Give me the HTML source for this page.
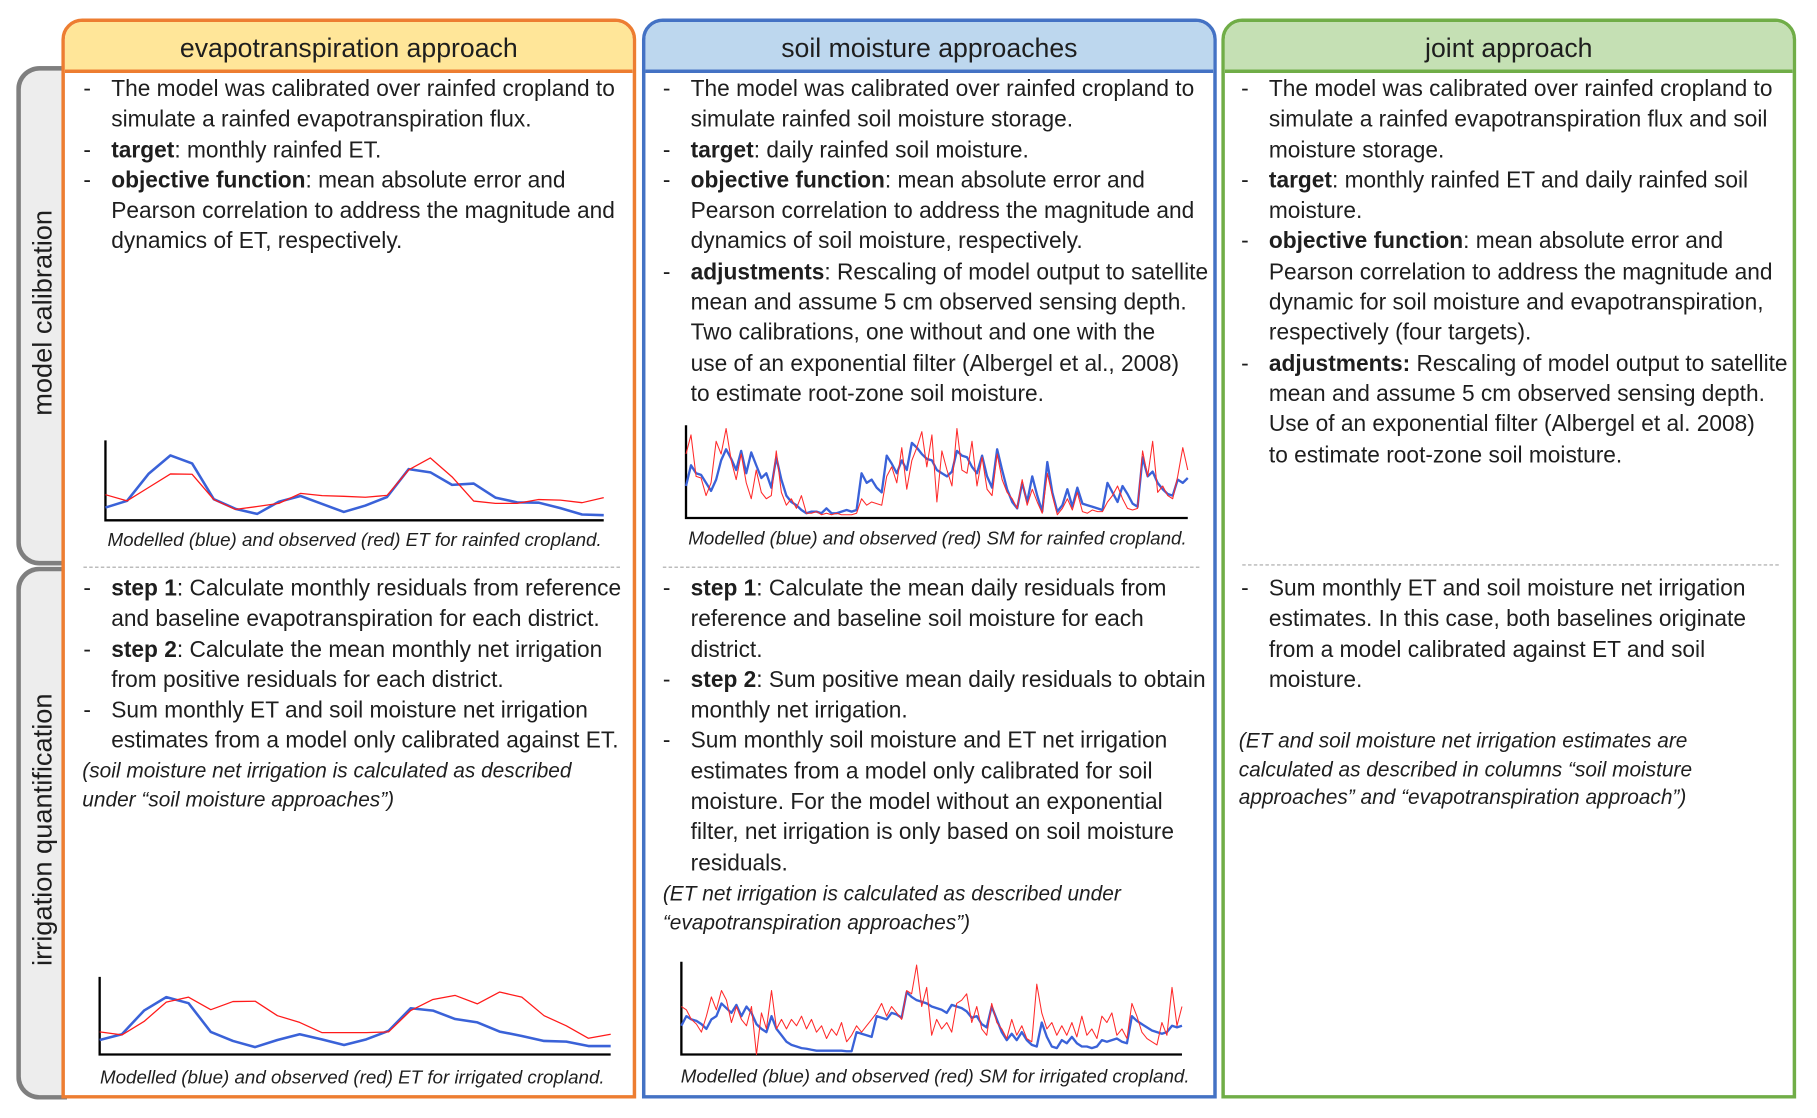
<!DOCTYPE html>
<html><head><meta charset="utf-8">
<style>
html,body{margin:0;padding:0;background:#fff;}
body{width:1817px;height:1118px;overflow:hidden;position:relative;}
#stage{position:absolute;left:0;top:0;width:1568px;height:965px;transform:scale(1.1588);transform-origin:0 0;font-family:"Liberation Sans",sans-serif;color:#1e1e1e;}
.tab{position:absolute;left:14px;width:44px;border:4px solid #7f7f7f;border-right:none;border-radius:20px 0 0 20px;background:#ededed;box-sizing:border-box;}
.tablabel{position:absolute;left:37px;font-size:23.5px;white-space:nowrap;transform:translate(-50%,-50%) rotate(-90deg);}
.col{position:absolute;top:16px;width:496px;height:932px;border:3px solid;border-radius:18px 18px 0 0;box-sizing:border-box;background:#fff;}
.hdr{position:absolute;left:0;top:0;right:0;height:41px;border-bottom:3px solid;border-radius:15px 15px 0 0;text-align:center;font-size:23px;line-height:44px;}
.blk{position:absolute;font-size:19.6px;line-height:26.3px;white-space:nowrap;}
.it{position:relative;padding-left:24px;}
.it::before{content:"-";position:absolute;left:0;top:0;}
.note{position:absolute;font-size:18px;line-height:24.5px;font-style:italic;white-space:nowrap;}
.cap{position:absolute;font-size:16.2px;font-style:italic;white-space:nowrap;transform:translateX(-50%);}
.sep{position:absolute;height:0;border-top:1.5px dashed #a6a6a6;}
svg{position:absolute;left:0;top:0;}
</style></head><body>
<div id="stage">
<div class="tab" style="top:57px;height:431px;"></div>
<div class="tablabel" style="top:270px;">model calibration</div>
<div class="tab" style="top:489px;height:460px;"></div>
<div class="tablabel" style="top:716px;">irrigation quantification</div>

<div class="col" style="left:53px;border-color:#ed7d31;">
 <div class="hdr" style="background:#ffe699;border-color:#ed7d31;">evapotranspiration approach</div>
</div>
<div class="col" style="left:554px;border-color:#4472c4;">
 <div class="hdr" style="background:#bdd7ee;border-color:#4472c4;">soil moisture approaches</div>
</div>
<div class="col" style="left:1054px;border-color:#70ad47;">
 <div class="hdr" style="background:#c5e0b4;border-color:#70ad47;">joint approach</div>
</div>

<div class="blk" style="left:72px;top:64px;">
<div class="it">The model was calibrated over rainfed cropland to<br>simulate a rainfed evapotranspiration flux.</div>
<div class="it"><b>target</b>: monthly rainfed ET.</div>
<div class="it"><b>objective function</b>: mean absolute error and<br>Pearson correlation to address the magnitude and<br>dynamics of ET, respectively.</div>
</div>
<div class="blk" style="left:572px;top:64px;">
<div class="it">The model was calibrated over rainfed cropland to<br>simulate rainfed soil moisture storage.</div>
<div class="it"><b>target</b>: daily rainfed soil moisture.</div>
<div class="it"><b>objective function</b>: mean absolute error and<br>Pearson correlation to address the magnitude and<br>dynamics of soil moisture, respectively.</div>
<div class="it"><b>adjustments</b>: Rescaling of model output to satellite<br>mean and assume 5 cm observed sensing depth.<br>Two calibrations, one without and one with the<br>use of an exponential filter (Albergel et al., 2008)<br>to estimate root-zone soil moisture.</div>
</div>
<div class="blk" style="left:1071px;top:64px;">
<div class="it">The model was calibrated over rainfed cropland to<br>simulate a rainfed evapotranspiration flux and soil<br>moisture storage.</div>
<div class="it"><b>target</b>: monthly rainfed ET and daily rainfed soil<br>moisture.</div>
<div class="it"><b>objective function</b>: mean absolute error and<br>Pearson correlation to address the magnitude and<br>dynamic for soil moisture and evapotranspiration,<br>respectively (four targets).</div>
<div class="it"><b>adjustments:</b> Rescaling of model output to satellite<br>mean and assume 5 cm observed sensing depth.<br>Use of an exponential filter (Albergel et al. 2008)<br>to estimate root-zone soil moisture.</div>
</div>

<div class="sep" style="left:72px;width:463px;top:489px;"></div>
<div class="sep" style="left:572px;width:463px;top:489px;"></div>
<div class="sep" style="left:1072px;width:463px;top:487px;"></div>

<div class="blk" style="left:72px;top:495px;">
<div class="it"><b>step 1</b>: Calculate monthly residuals from reference<br>and baseline evapotranspiration for each district.</div>
<div class="it"><b>step 2</b>: Calculate the mean monthly net irrigation<br>from positive residuals for each district.</div>
<div class="it">Sum monthly ET and soil moisture net irrigation<br>estimates from a model only calibrated against ET.</div>
</div>
<div class="note" style="left:71px;top:653px;">(soil moisture net irrigation is calculated as described<br>under “soil moisture approaches”)</div>
<div class="blk" style="left:572px;top:495px;">
<div class="it"><b>step 1</b>: Calculate the mean daily residuals from<br>reference and baseline soil moisture for each<br>district.</div>
<div class="it"><b>step 2</b>: Sum positive mean daily residuals to obtain<br>monthly net irrigation.</div>
<div class="it">Sum monthly soil moisture and ET net irrigation<br>estimates from a model only calibrated for soil<br>moisture. For the model without an exponential<br>filter, net irrigation is only based on soil moisture<br>residuals.</div>
</div>
<div class="note" style="left:572px;top:759px;">(ET net irrigation is calculated as described under<br>“evapotranspiration approaches”)</div>
<div class="blk" style="left:1071px;top:495px;">
<div class="it">Sum monthly ET and soil moisture net irrigation<br>estimates. In this case, both baselines originate<br>from a model calibrated against ET and soil<br>moisture.</div>
</div>
<div class="note" style="left:1069px;top:627px;">(ET and soil moisture net irrigation estimates are<br>calculated as described in columns “soil moisture<br>approaches” and “evapotranspiration approach”)</div>

<div class="cap" style="left:306px;top:457px;">Modelled (blue) and observed (red) ET for rainfed cropland.</div>
<div class="cap" style="left:304px;top:921px;">Modelled (blue) and observed (red) ET for irrigated cropland.</div>
<div class="cap" style="left:809px;top:456px;">Modelled (blue) and observed (red) SM for rainfed cropland.</div>
<div class="cap" style="left:807px;top:920px;">Modelled (blue) and observed (red) SM for irrigated cropland.</div>

<svg id="charts" width="1568" height="965"></svg>
</div>
<script>
const etRainfedModel=[40,61,146,203,178,66,36,20,58,76,51,26,46,73,160,150,111,115,71,56,55,38,18,16];
const etRainfedObs=[80,61,103,145,144,65,34,43,53,84,77,75,72,78,158,195,136,60,53,53,65,63,55,71];
const etIrrModel=[43,60,130,170,152,67,40,22,43,60,45,28,45,70,137,130,105,95,68,55,40,38,25,25];
const etIrrObs=[67,58,98,155,170,133,157,158,115,95,65,65,65,67,130,163,175,150,185,170,115,85,48,60];
const smRainfedModel=[100,165,140,135,110,85,120,180,215,185,150,210,140,205,165,125,140,95,190,120,70,50,40,25,15,20,20,15,30,15,15,20,25,20,25,140,110,120,95,80,195,170,140,180,150,235,220,200,185,180,150,140,130,145,210,195,190,160,140,195,130,95,215,150,90,50,30,110,50,130,70,20,175,80,20,40,90,35,95,45,40,35,30,25,110,80,50,100,75,45,35,190,130,145,110,90,75,70,120,110,125];
const smRainfedObs=[200,260,130,125,70,110,240,200,280,180,120,200,110,60,150,80,60,70,210,80,40,60,30,70,15,15,20,10,15,10,15,10,10,10,15,60,40,50,45,40,130,160,110,220,90,180,220,270,160,260,50,210,150,100,280,150,140,240,100,190,90,70,200,120,80,60,30,120,40,90,50,15,140,70,10,30,60,25,80,20,15,25,20,20,50,70,100,60,30,25,30,210,130,240,80,100,70,60,130,220,150];
const smIrrModel=[90,120,110,105,95,80,110,120,160,145,130,155,120,150,130,95,80,70,120,80,60,40,30,25,20,18,15,12,12,12,12,12,12,10,10,70,65,60,55,120,115,110,130,125,115,195,180,170,165,160,150,145,140,130,155,150,145,135,115,120,95,85,150,110,70,45,65,45,70,45,30,25,100,55,25,20,45,35,55,35,25,25,20,25,45,40,45,50,40,35,120,105,95,85,75,70,65,70,90,85,90];
const smIrrObs=[150,140,110,95,70,120,180,140,200,170,100,150,110,90,150,0,130,80,200,80,110,80,110,90,120,80,110,70,90,50,80,60,100,40,60,90,70,90,110,130,160,120,150,130,110,200,190,280,150,210,60,110,80,100,70,160,170,190,100,150,80,60,160,100,80,50,110,60,90,50,40,220,130,80,100,60,90,60,100,55,120,60,80,50,120,100,130,60,80,50,160,120,70,50,40,30,100,60,210,90,150];

const svg=document.getElementById('charts');
const NS='http://www.w3.org/2000/svg';
function drawChart(name,x0,y0,x1,y1,vmax,series){
  const ax=document.createElementNS(NS,'path');
  ax.setAttribute('d','M'+x0+' '+y0+' L'+x0+' '+y1+' L'+x1+' '+y1);
  ax.setAttribute('fill','none');ax.setAttribute('stroke','#000');ax.setAttribute('stroke-width','2');
  
  
  svg.appendChild(ax);
  series.forEach(s=>{
    const n=s.vals.length;
    const xs=i=>x0+(x1-x0)*i/(n-1);
    const ys=v=>y1-(y1-y0)*v/vmax;
    let d='';
    s.vals.forEach((v,i)=>{d+=(i?'L':'M')+xs(i).toFixed(1)+' '+ys(v).toFixed(1)+' ';});
    const p=document.createElementNS(NS,'path');
    p.setAttribute('d',d);p.setAttribute('fill','none');
    p.setAttribute('stroke',s.color);p.setAttribute('stroke-width',s.w);
    p.setAttribute('stroke-linejoin','round');
    
    
    svg.appendChild(p);
  });
}
drawChart('et-rainfed',91,380,521,449,250,[{id:'modelled',vals:etRainfedModel,color:'#3a62d8',w:2.2},{id:'observed',vals:etRainfedObs,color:'#ff1a1a',w:1.1}]);
drawChart('et-irrigated',86,843,527,910,230,[{id:'modelled',vals:etIrrModel,color:'#3a62d8',w:2.2},{id:'observed',vals:etIrrObs,color:'#ff1a1a',w:1.1}]);
drawChart('sm-rainfed',592,367,1025,447,290,[{id:'modelled',vals:smRainfedModel,color:'#3a62d8',w:2},{id:'observed',vals:smRainfedObs,color:'#ff2a2a',w:0.9}]);
drawChart('sm-irrigated',588,830,1020,910,290,[{id:'modelled',vals:smIrrModel,color:'#3a62d8',w:2},{id:'observed',vals:smIrrObs,color:'#ff2a2a',w:0.9}]);
</script>
</body></html>
